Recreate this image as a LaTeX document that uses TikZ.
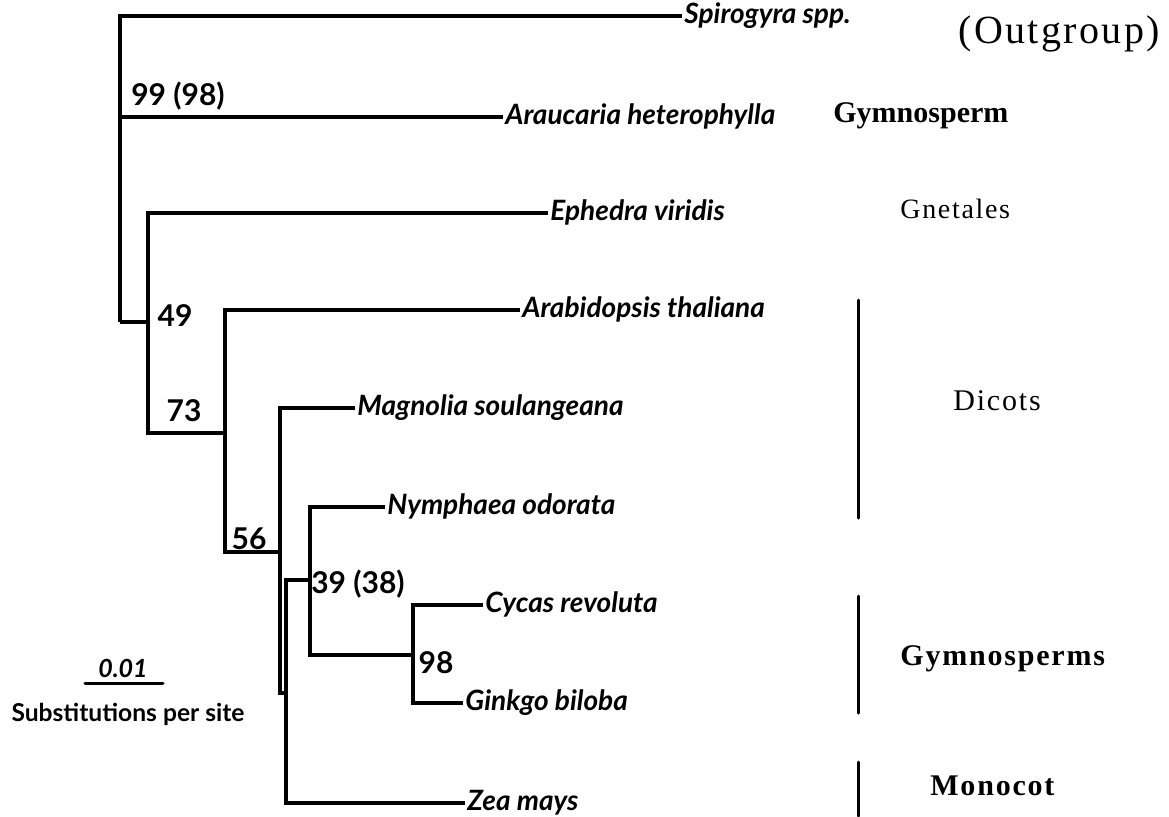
\documentclass[tikz,border=0pt]{standalone}
\usepackage{fontspec}
\setmainfont{Liberation Serif}
\newfontfamily\optima{Lato}
\newfontfamily\groupfont{Liberation Serif}[LetterSpace=6]
\newfontfamily\groupfonttight{Liberation Serif}
\usetikzlibrary{calc}

\tikzset{
  branch/.style={line width=2.3pt, line join=miter},
  bar/.style={line width=1.5pt, line cap=round},
  taxon/.style={anchor=west, inner sep=1pt, text height=2ex, text depth=.4ex,
    font=\optima\bfseries\itshape\fontsize{14}{16}\selectfont},
  support/.style={inner sep=0pt, font=\optima\bfseries\fontsize{15}{17}\selectfont},
  group/.style={anchor=west, inner sep=0pt, text height=1.6ex, text depth=.4ex,
    font=\groupfont\fontsize{15}{17}\selectfont},
  heavy/.style={font=\groupfont\bfseries\fontsize{15}{17}\selectfont}
}

\begin{document}
\begin{tikzpicture}[x=0.5pt, y=-0.5pt]
  \useasboundingbox (0,0) rectangle (1169,816);

  % inner nodes of the tree
  \coordinate (root) at (120,322);
  \coordinate (n49) at (148,322);
  \coordinate (n73) at (225,433);
  \coordinate (n56) at (280,552);
  \coordinate (nzea) at (286,693);
  \coordinate (n39) at (310,580);
  \coordinate (n98) at (413,655);

  % taxa
  \node[taxon] (spirogyra) at (682,16) {Spirogyra spp.};
  \node[taxon] (araucaria) at (503,117) {Araucaria heterophylla};
  \node[taxon] (ephedra) at (548,213) {Ephedra viridis};
  \node[taxon] (arabidopsis) at (520,310) {Arabidopsis thaliana};
  \node[taxon] (magnolia) at (355,408) {Magnolia soulangeana};
  \node[taxon] (nymphaea) at (385,507) {Nymphaea odorata};
  \node[taxon] (cycas) at (483,605) {Cycas revoluta};
  \node[taxon] (ginkgo) at (463,703) {Ginkgo biloba};
  \node[taxon] (zea) at (465,803) {Zea mays};

  % branches
  \draw[branch] (spirogyra.west) -| (root);
  \draw[branch] (araucaria.west) -- (araucaria.west -| root);
  \draw[branch] (root) -- (n49);
  \draw[branch] (ephedra.west) -| (n49) |- (n73);
  \draw[branch] (arabidopsis.west) -| (n73) |- (n56);
  \draw[branch] (magnolia.west) -| (n56) |- (nzea);
  \draw[branch] (n39) -| (nzea) |- (zea.west);
  \draw[branch] (nymphaea.west) -| (n39) |- (n98);
  \draw[branch] (cycas.west) -| (n98) |- (ginkgo.west);

  % bootstrap values
  \node[support] (b99) at (178,96) {99 (98)};
  \node[support] (b49) at (175,316) {49};
  \node[support] (b73) at (184,411) {73};
  \node[support] (b56) at (249,539) {56};
  \node[support] (b39) at (358,584) {39 (38)};
  \node[support] (b98) at (436,663) {98};

  % groups
  \coordinate (dicotstop) at (858,300);
  \coordinate (dicotsbot) at (858,518);
  \coordinate (gymnotop) at (858,596);
  \coordinate (gymnobot) at (858,713);
  \coordinate (monotop) at (858,762);
  \coordinate (monobot) at (858,816);
  \draw[bar] (dicotstop) -- (dicotsbot);
  \draw[bar] (gymnotop) -- (gymnobot);
  \draw[bar] (monotop) -- (monobot);
  \node[group, font=\groupfont\fontsize{20}{22}\selectfont] (outgroup) at (958,38) {(Outgroup)};
  \node[group, font=\groupfonttight\bfseries\fontsize{15}{17}\selectfont] (gymnosperm) at (833,117) {Gymnosperm};
  \node[group, font=\groupfont\fontsize{14}{16}\selectfont] (gnetales) at (900,213) {Gnetales};
  \node[group] (dicots) at (953,405) {Dicots};
  \node[group, heavy] (gymnosperms) at (900,660) {Gymnosperms};
  \node[group, heavy] (monocot) at (930,790) {Monocot};

  % scale
  \coordinate (scaleleft) at (85,683);
  \coordinate (scaleright) at (163,683);
  \draw[bar] (scaleleft) -- (scaleright);
  \node[inner sep=0pt, font=\optima\bfseries\itshape\fontsize{12.5}{14}\selectfont]
    (scalelabel) at (123,668) {0.01};
  \node[inner sep=0pt, font=\optima\bfseries\fontsize{12.3}{14}\selectfont]
    (substitutions) at (128,714) {Substitutions per site};
\end{tikzpicture}
\end{document}
